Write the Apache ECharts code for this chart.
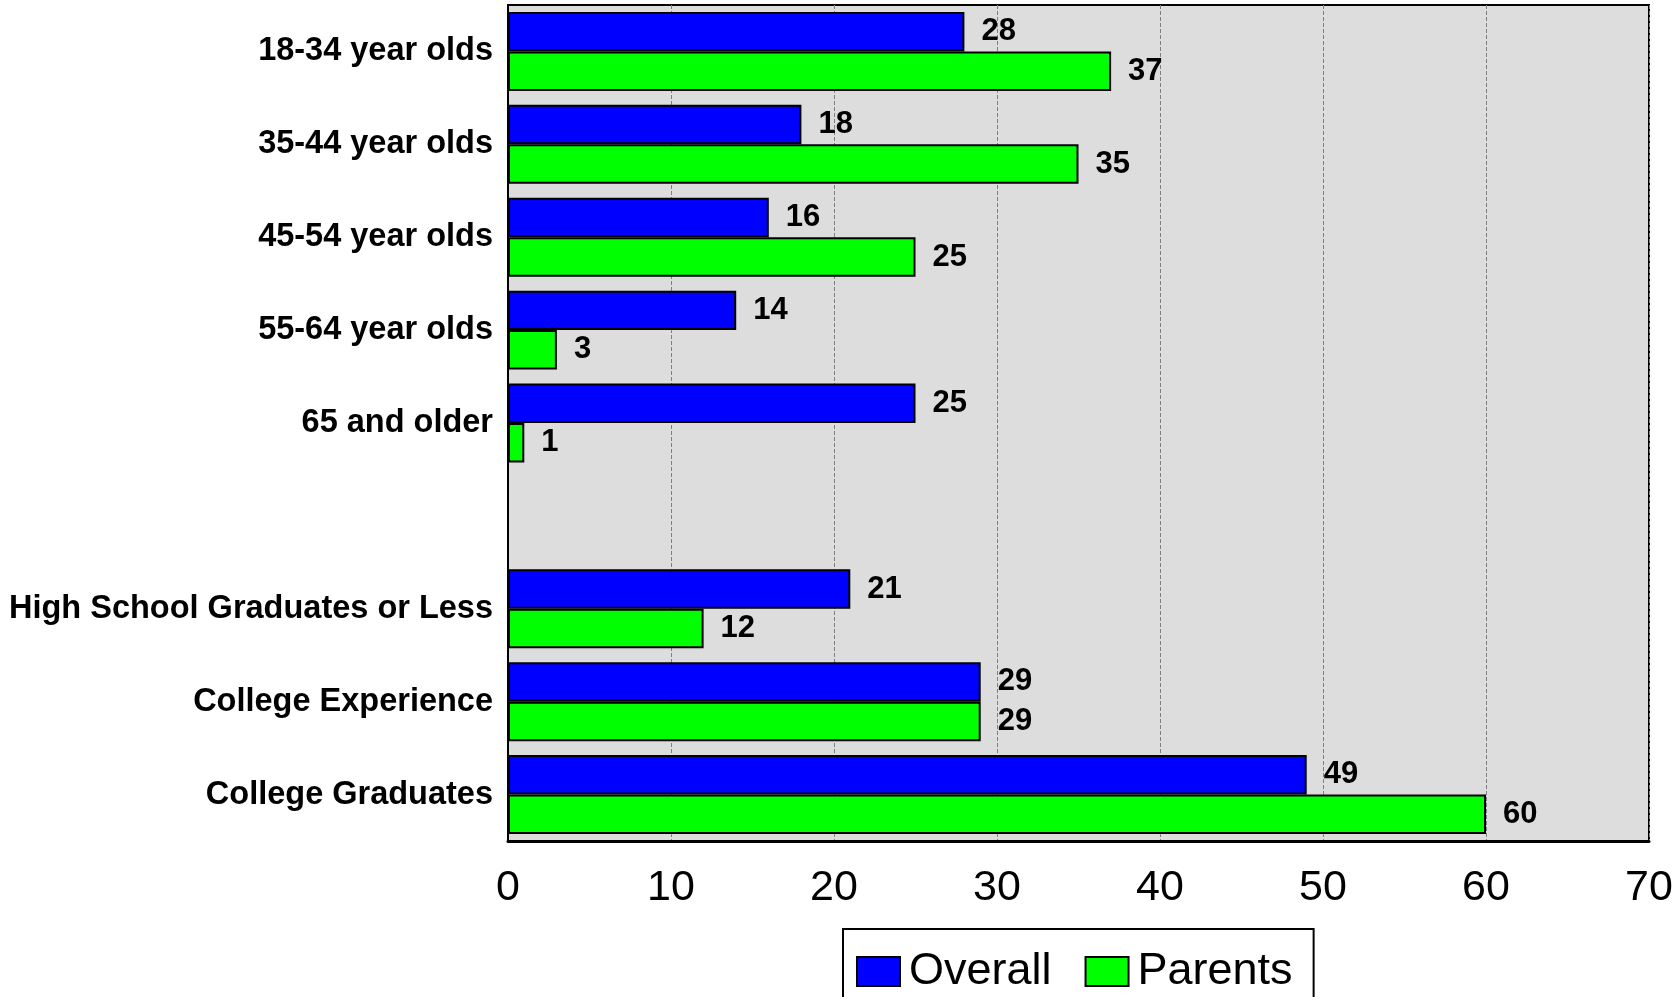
<!DOCTYPE html>
<html>
<head>
<meta charset="utf-8">
<script src="https://cdn.jsdelivr.net/npm/echarts@6/dist/echarts.min.js"></script>
<style>
html,body{margin:0;padding:0;background:#fff;}
#main{width:1674px;height:997px;}
</style>
</head>
<body>
<div id="main"></div>
<script>
var categories = ['18-34 year olds', '35-44 year olds', '45-54 year olds', '55-64 year olds', '65 and older', '', 'High School Graduates or Less', 'College Experience', 'College Graduates'];
var overall = [28, 18, 16, 14, 25, '-', 21, 29, 49];
var parents = [37, 35, 25, 3, 1, '-', 12, 29, 60];
var xTicks = [0, 10, 20, 30, 40, 50, 60, 70];

var font = "'Liberation Sans', Arial, sans-serif";
var myChart = echarts.init(document.getElementById('main'));

var barLabel = {
    show: true,
    position: 'right',
    distance: 17,
    color: '#000',
    fontFamily: font,
    fontWeight: 'bold',
    fontSize: 31,
    padding: [8, 0, 0, 0]
};

option = {
    backgroundColor: '#fff',
    animation: false,
    legend: {
        left: 843,
        top: 929,
        padding: [20, 21, 20, 13],
        borderColor: '#000',
        borderWidth: 2,
        itemWidth: 43,
        itemHeight: 29,
        itemGap: 33,
        icon: 'rect',
        textStyle: {
            color: '#000',
            fontFamily: font,
            fontSize: 45,
            padding: [0, 0, 0, 4]
        },
        data: ['Overall', 'Parents']
    },
    grid: {
        left: 508,
        right: 25,
        top: 5,
        bottom: 156,
        show: true,
        backgroundColor: '#dddddd',
        borderColor: '#000',
        borderWidth: 2,
        outerBoundsMode: 'none'
    },
    xAxis: {
        type: 'value',
        min: xTicks[0],
        max: xTicks[xTicks.length - 1],
        interval: 10,
        axisLine: {show: true, lineStyle: {color: '#000', width: 3}},
        axisTick: {show: false},
        splitLine: {show: true, lineStyle: {color: '#808080', type: 'dashed', width: 1}},
        axisLabel: {
            color: '#000',
            fontFamily: font,
            fontSize: 43,
            margin: 26
        }
    },
    yAxis: {
        type: 'category',
        inverse: true,
        data: categories,
        axisLine: {show: true, lineStyle: {color: '#000', width: 2}},
        axisTick: {show: false},
        axisLabel: {
            color: '#000',
            fontFamily: font,
            fontWeight: 'bold',
            fontSize: 32.5,
            margin: 15,
            padding: [11, 0, 0, 0]
        }
    },
    series: [
        {
            name: 'Overall',
            type: 'bar',
            data: overall,
            barGap: '0%',
            barCategoryGap: '15%',
            itemStyle: {color: '#0000ff', borderColor: '#000', borderWidth: 2},
            label: barLabel
        },
        {
            name: 'Parents',
            type: 'bar',
            data: parents,
            barGap: '0%',
            barCategoryGap: '15%',
            itemStyle: {color: '#00ff00', borderColor: '#000', borderWidth: 2},
            label: barLabel
        }
    ]
};
myChart.setOption(option);
</script>
</body>
</html>
